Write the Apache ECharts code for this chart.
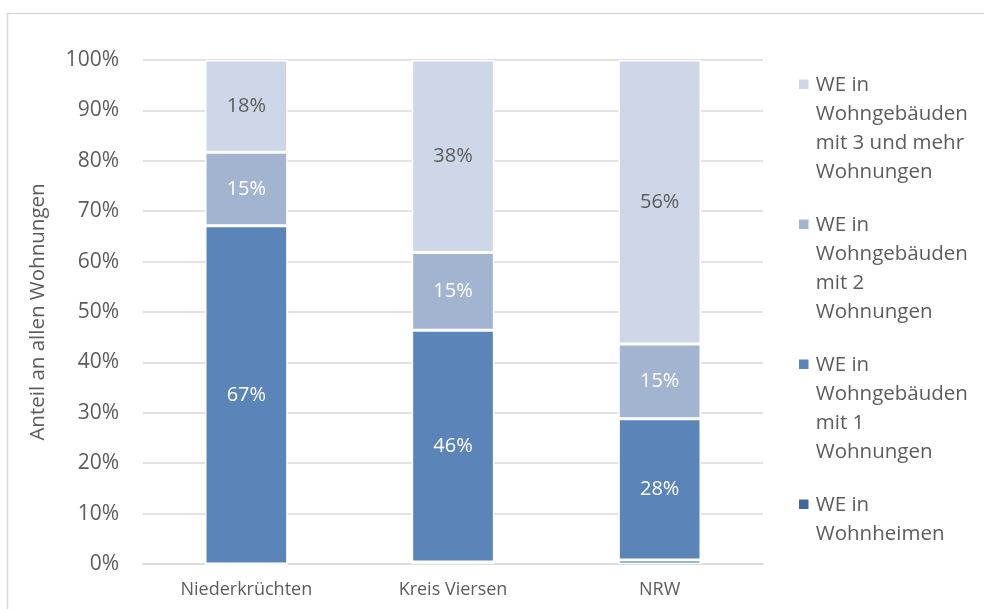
<!DOCTYPE html>
<html>
<head>
<meta charset="utf-8">
<script src="https://cdn.jsdelivr.net/npm/echarts@6/dist/echarts.min.js"></script>
<style>
  html, body { margin: 0; padding: 0; background: #fff; }
  #chart { width: 984px; height: 609px; }
</style>
</head>
<body>
<div id="chart"></div>
<script>
const categories = ['Niederkrüchten', 'Kreis Viersen', 'NRW'];
const wohnheime = [0, 0.4, 0.8];
const mit1 = [67.1, 46.0, 28.0];
const mit2 = [14.6, 15.4, 14.85];
const mit3 = [18.3, 38.2, 56.35];
const yTicks = [0, 10, 20, 30, 40, 50, 60, 70, 80, 90, 100];

const names = {
  heim: 'WE in Wohnheimen',
  one: 'WE in Wohngebäuden mit 1 Wohnungen',
  two: 'WE in Wohngebäuden mit 2 Wohnungen',
  three: 'WE in Wohngebäuden mit 3 und mehr Wohnungen'
};
const legendText = {
  [names.three]: 'WE in\nWohngebäuden\nmit 3 und mehr\nWohnungen',
  [names.two]: 'WE in\nWohngebäuden\nmit 2\nWohnungen',
  [names.one]: 'WE in\nWohngebäuden\nmit 1\nWohnungen',
  [names.heim]: 'WE in\nWohnheimen\n \n '
};

const FONT = 'Open Sans';
const GRAY = '#5c5c5c';

const makeSeries = (name, data, color, labelColor) => ({
  name: name,
  type: 'bar',
  stack: 'total',
  barWidth: '40%',
  data: data,
  itemStyle: { color: color, borderColor: '#fff', borderWidth: 1.5 },
  label: {
    show: labelColor != null,
    position: 'inside',
    color: labelColor,
    fontFamily: FONT,
    fontSize: 20,
    formatter: p => Math.round(p.value) + '%'
  },
  emphasis: { disabled: true }
});

const chart = echarts.init(document.getElementById('chart'));
chart.setOption({
  animation: false,
  textStyle: { fontFamily: FONT },
  graphic: [{
    type: 'rect',
    shape: { x: 7.5, y: 13.5, width: 1000, height: 700 },
    style: { fill: 'none', stroke: '#d9d9d9', lineWidth: 1.5 },
    silent: true
  }],
  grid: { left: 143, right: 221, top: 60, bottom: 45 },
  legend: {
    orient: 'vertical',
    left: 792,
    top: 65,
    height: 580,
    itemWidth: 14,
    itemHeight: 116,
    itemGap: 22,
    icon: 'path://M0,0h0.01v0.01h-0.01z M0,7.5h11.5v11.5h-11.5z M0,115.99h0.01v0.01h-0.01z',
    data: [names.three, names.two, names.one, names.heim],
    formatter: n => legendText[n],
    textStyle: { fontFamily: FONT, fontSize: 20.5, lineHeight: 29, color: GRAY },
    selectedMode: false
  },
  xAxis: {
    type: 'category',
    data: categories,
    axisLine: { lineStyle: { color: '#d9d9d9', width: 1.5 } },
    axisTick: { show: false },
    axisLabel: { color: GRAY, fontFamily: FONT, fontSize: 18, margin: 17 }
  },
  yAxis: {
    type: 'value',
    min: yTicks[0],
    max: yTicks[yTicks.length - 1],
    interval: 10,
    name: 'Anteil an allen Wohnungen',
    nameLocation: 'middle',
    nameGap: 94,
    nameTextStyle: { color: GRAY, fontFamily: FONT, fontSize: 20.5 },
    axisLine: { show: false },
    axisTick: { show: false },
    splitLine: { lineStyle: { color: '#d9d9d9', width: 1.5 } },
    axisLabel: { color: GRAY, fontFamily: FONT, fontSize: 21, margin: 24, formatter: '{value}%' }
  },
  series: [
    makeSeries(names.heim, wohnheime, '#3d6a9b', null),
    makeSeries(names.one, mit1, '#5b84b9', '#ffffff'),
    makeSeries(names.two, mit2, '#a3b4d1', '#ffffff'),
    makeSeries(names.three, mit3, '#ced7e7', GRAY)
  ]
});
</script>
</body>
</html>
